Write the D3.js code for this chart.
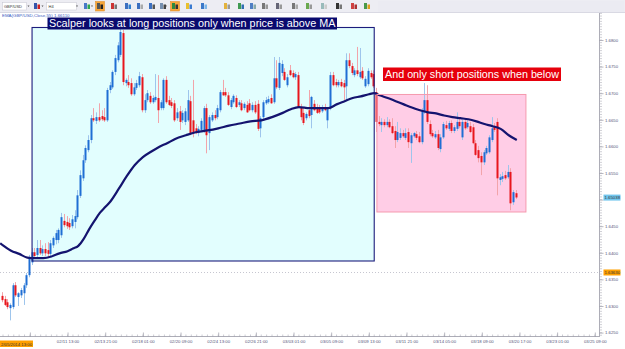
<!DOCTYPE html>
<html><head><meta charset="utf-8">
<script src="https://cdn.jsdelivr.net/npm/d3@7"></script>
<style>html,body{margin:0;padding:0;background:#fff;overflow:hidden}svg{display:block}</style>
</head><body><svg id="c" width="625" height="349"></svg>
<script>
// ---------- DATA ----------
// H4 GBP/USD candles [open, high, low, close], bar 0 = 02/05/2014 13:00
const candles = [
[1.6319,1.6326,1.6307,1.6311],[1.6313,1.6319,1.6300,1.6302],[1.6307,1.6313,1.6294,1.6298],[1.6296,1.6305,1.6273,1.6302],
[1.6298,1.6343,1.6294,1.6339],[1.6339,1.6345,1.6317,1.6320],[1.6317,1.6326,1.6300,1.6324],[1.6320,1.6334,1.6315,1.6330],
[1.6324,1.6343,1.6302,1.6339],[1.6339,1.6362,1.6334,1.6358],[1.6358,1.6396,1.6354,1.6390],[1.6382,1.6409,1.6377,1.6401],
[1.6401,1.6409,1.6390,1.6394],[1.6396,1.6424,1.6390,1.6409],[1.6409,1.6424,1.6396,1.6399],[1.6399,1.6414,1.6394,1.6407],
[1.6407,1.6418,1.6394,1.6399],[1.6405,1.6420,1.6390,1.6398],[1.6398,1.6424,1.6394,1.6418],[1.6414,1.6431,1.6409,1.6428],
[1.6424,1.6443,1.6416,1.6437],[1.6424,1.6446,1.6418,1.6443],[1.6433,1.6475,1.6428,1.6467],[1.6460,1.6473,1.6448,1.6452],
[1.6458,1.6469,1.6445,1.6450],[1.6456,1.6465,1.6443,1.6448],[1.6450,1.6471,1.6446,1.6463],[1.6458,1.6480,1.6446,1.6469],
[1.6467,1.6518,1.6463,1.6508],[1.6507,1.6555,1.6503,1.6546],[1.6540,1.6584,1.6535,1.6574],[1.6574,1.6602,1.6569,1.6597],
[1.6593,1.6621,1.6589,1.6612],[1.6612,1.6659,1.6606,1.6653],[1.6653,1.6672,1.6646,1.6649],[1.6648,1.6664,1.6642,1.6655],
[1.6655,1.6681,1.6646,1.6649],[1.6657,1.6668,1.6648,1.6651],[1.6655,1.6672,1.6646,1.6649],[1.6649,1.6710,1.6646,1.6706],
[1.6706,1.6721,1.6700,1.6715],[1.6711,1.6743,1.6708,1.6740],[1.6740,1.6772,1.6734,1.6766],[1.6762,1.6796,1.6758,1.6790],
[1.6772,1.6822,1.6768,1.6815],[1.6813,1.6819,1.6715,1.6721],[1.6719,1.6728,1.6713,1.6725],[1.6721,1.6734,1.6710,1.6715],
[1.6719,1.6728,1.6695,1.6698],[1.6698,1.6719,1.6695,1.6711],[1.6710,1.6725,1.6706,1.6719],[1.6715,1.6740,1.6711,1.6732],
[1.6730,1.6736,1.6664,1.6668],[1.6668,1.6698,1.6663,1.6687],[1.6687,1.6706,1.6683,1.6700],[1.6695,1.6702,1.6680,1.6683],
[1.6683,1.6696,1.6680,1.6691],[1.6687,1.6736,1.6683,1.6693],[1.6691,1.6734,1.6644,1.6668],[1.6672,1.6687,1.6668,1.6683],
[1.6672,1.6728,1.6668,1.6725],[1.6725,1.6732,1.6680,1.6683],[1.6687,1.6695,1.6676,1.6678],[1.6683,1.6691,1.6672,1.6676],
[1.6681,1.6687,1.6646,1.6649],[1.6653,1.6672,1.6648,1.6664],[1.6666,1.6676,1.6631,1.6646],[1.6649,1.6668,1.6644,1.6663],
[1.6646,1.6672,1.6640,1.6666],[1.6649,1.6706,1.6646,1.6687],[1.6685,1.6695,1.6621,1.6625],[1.6649,1.6725,1.6617,1.6627],
[1.6634,1.6642,1.6623,1.6625],[1.6625,1.6638,1.6619,1.6633],[1.6631,1.6653,1.6627,1.6648],[1.6631,1.6676,1.6625,1.6672],
[1.6672,1.6680,1.6587,1.6621],[1.6625,1.6659,1.6593,1.6655],[1.6649,1.6664,1.6646,1.6659],[1.6659,1.6668,1.6649,1.6653],
[1.6655,1.6678,1.6651,1.6672],[1.6668,1.6706,1.6664,1.6702],[1.6702,1.6725,1.6695,1.6696],[1.6702,1.6710,1.6693,1.6696],
[1.6696,1.6702,1.6676,1.6678],[1.6674,1.6691,1.6670,1.6687],[1.6683,1.6698,1.6680,1.6695],[1.6691,1.6696,1.6672,1.6674],
[1.6678,1.6687,1.6674,1.6683],[1.6681,1.6687,1.6666,1.6668],[1.6672,1.6683,1.6668,1.6680],[1.6678,1.6685,1.6663,1.6664],
[1.6681,1.6689,1.6666,1.6668],[1.6668,1.6683,1.6664,1.6678],[1.6678,1.6685,1.6661,1.6664],[1.6680,1.6687,1.6629,1.6633],
[1.6634,1.6657,1.6617,1.6653],[1.6655,1.6687,1.6651,1.6683],[1.6681,1.6693,1.6678,1.6687],[1.6683,1.6695,1.6680,1.6689],
[1.6691,1.6698,1.6680,1.6681],[1.6683,1.6768,1.6680,1.6728],[1.6728,1.6762,1.6708,1.6711],[1.6710,1.6768,1.6706,1.6757],
[1.6738,1.6762,1.6732,1.6755],[1.6740,1.6747,1.6723,1.6725],[1.6715,1.6736,1.6711,1.6730],[1.6743,1.6753,1.6732,1.6734],
[1.6738,1.6743,1.6728,1.6730],[1.6730,1.6740,1.6725,1.6736],[1.6734,1.6740,1.6672,1.6674],[1.6674,1.6680,1.6649,1.6655],
[1.6663,1.6672,1.6640,1.6644],[1.6653,1.6664,1.6649,1.6661],[1.6668,1.6706,1.6653,1.6657],[1.6659,1.6695,1.6634,1.6693],
[1.6680,1.6687,1.6666,1.6668],[1.6674,1.6680,1.6661,1.6663],[1.6672,1.6678,1.6661,1.6664],[1.6666,1.6678,1.6663,1.6674],
[1.6674,1.6680,1.6666,1.6668],[1.6649,1.6674,1.6634,1.6670],[1.6672,1.6740,1.6668,1.6734],[1.6734,1.6740,1.6713,1.6715],
[1.6721,1.6727,1.6711,1.6715],[1.6715,1.6725,1.6711,1.6721],[1.6721,1.6727,1.6711,1.6713],[1.6719,1.6725,1.6687,1.6711],
[1.6713,1.6775,1.6687,1.6762],[1.6762,1.6775,1.6747,1.6751],[1.6751,1.6757,1.6734,1.6738],[1.6734,1.6747,1.6730,1.6743],
[1.6743,1.6787,1.6732,1.6736],[1.6730,1.6785,1.6727,1.6740],[1.6742,1.6749,1.6725,1.6728],[1.6713,1.6732,1.6710,1.6727],
[1.6717,1.6747,1.6713,1.6742],[1.6738,1.6743,1.6727,1.6730],[1.6736,1.6743,1.6710,1.6713],[1.6702,1.6710,1.6627,1.6646],
[1.6646,1.6657,1.6638,1.6642],[1.6640,1.6653,1.6627,1.6646],[1.6646,1.6651,1.6636,1.6640],[1.6640,1.6655,1.6636,1.6646],
[1.6646,1.6651,1.6634,1.6636],[1.6638,1.6653,1.6623,1.6625],[1.6629,1.6638,1.6597,1.6612],[1.6612,1.6646,1.6608,1.6627],
[1.6616,1.6634,1.6612,1.6625],[1.6625,1.6631,1.6616,1.6619],[1.6616,1.6634,1.6612,1.6625],[1.6627,1.6634,1.6597,1.6608],
[1.6606,1.6625,1.6569,1.6621],[1.6619,1.6627,1.6616,1.6625],[1.6623,1.6629,1.6612,1.6616],[1.6619,1.6627,1.6606,1.6608],
[1.6608,1.6672,1.6604,1.6668],[1.6664,1.6719,1.6661,1.6687],[1.6687,1.6715,1.6642,1.6646],[1.6642,1.6649,1.6619,1.6623],
[1.6625,1.6631,1.6616,1.6619],[1.6617,1.6629,1.6614,1.6623],[1.6623,1.6631,1.6593,1.6597],[1.6595,1.6623,1.6589,1.6617],
[1.6617,1.6646,1.6614,1.6642],[1.6640,1.6648,1.6631,1.6634],[1.6633,1.6648,1.6629,1.6644],[1.6644,1.6649,1.6625,1.6629],
[1.6629,1.6640,1.6625,1.6636],[1.6633,1.6664,1.6629,1.6646],[1.6646,1.6653,1.6634,1.6638],[1.6617,1.6651,1.6612,1.6646],
[1.6646,1.6651,1.6631,1.6634],[1.6636,1.6649,1.6633,1.6644],[1.6638,1.6646,1.6625,1.6627],[1.6636,1.6642,1.6604,1.6606],
[1.6606,1.6612,1.6582,1.6584],[1.6593,1.6601,1.6570,1.6578],[1.6582,1.6589,1.6546,1.6570],[1.6570,1.6593,1.6565,1.6589],
[1.6587,1.6601,1.6584,1.6597],[1.6589,1.6621,1.6586,1.6617],[1.6612,1.6655,1.6608,1.6634],[1.6638,1.6644,1.6627,1.6631],
[1.6646,1.6653,1.6508,1.6540],[1.6537,1.6548,1.6527,1.6542],[1.6539,1.6552,1.6533,1.6544],[1.6546,1.6554,1.6537,1.6540],
[1.6542,1.6565,1.6539,1.6552],[1.6552,1.6559,1.6480,1.6493],[1.6495,1.6518,1.6490,1.6514],[1.6512,1.6518,1.6501,1.6504]
];
// EMA(55) readings at bar indices
const emaIdx  = [-1,0,3,6,9,12,15,18,21,24,26,28,30,32,34,36,38,40,43,46,49,52,55,58,61,64,68,72,76,80,84,88,92,96,100,104,107,110,114,118,121,124,127,130,133,136,138,140,143,146,149,152,155,158,161,164,167,170,173,176,179,182,185,188,191];
const emaVals = [1.6418,1.6414,1.6404,1.6398,1.6391,1.6390,1.6390,1.6393,1.6399,1.6403,1.6408,1.6413,1.6426,1.6444,1.6460,1.6475,1.6486,1.6497,1.6520,1.6544,1.6565,1.6580,1.6590,1.6599,1.6606,1.6614,1.6621,1.6627,1.6630,1.6634,1.6639,1.6643,1.6647,1.6649,1.6655,1.6663,1.6670,1.6674,1.6672,1.6672,1.6672,1.6679,1.6685,1.6691,1.6694,1.6698,1.6700,1.6696,1.6691,1.6685,1.6679,1.6673,1.6668,1.6664,1.6662,1.6658,1.6655,1.6653,1.6651,1.6647,1.6642,1.6638,1.6633,1.6621,1.6612];
const priceTicks = [1.625,1.630,1.635,1.640,1.645,1.650,1.655,1.660,1.665,1.670,1.675,1.680];
const timeTickIdx = [10,24,38,52,66,80,94,108,122,136,150,164,178,192,206,220];
const timeTickLabels = ["","02/11 13:00","02/13 21:00","02/18 01:00","02/20 09:00","02/24 13:00","02/26 21:00","03/03 01:00","03/05 09:00","03/09 13:00","03/11 21:00","03/14 05:00","03/18 09:00","03/20 17:00","03/23 01:00","03/25 09:00"];
const startLabel = "2/05/2014 13:00";
const lastPrice = 1.65038;
const levelPrice = 1.63630;
const emaHeader = "EMA(GBP/USD,Close,55) 1.66110";
const longText = "Scalper looks at long positions only when price is above MA";
const shortText = "And only short positions when below";
// annotation zones in data units [fromBar, toBar, lowPrice, highPrice]
const longZone = [10.8, 138, 1.63846, 1.68235];
const shortZone = [139.0, 194.4, 1.64767, 1.66976];

// ---------- SCALES ----------
const svg = d3.select('#c');
const W = 625, H = 349, plotR = 600, plotT = 13, plotB = 336;
const xs = d3.scaleLinear().domain([0, 220]).range([3, 594.8]);
const ys = d3.scaleLinear().domain([1.625, 1.68]).range([332.6, 40]);
const FONT = "'Liberation Sans', Arial, sans-serif";

svg.append('rect').attr('width', W).attr('height', H).attr('fill', '#ffffff');

// ---------- TOOLBAR ----------
svg.append('rect').attr('x', 0).attr('y', 0).attr('width', W).attr('height', 12.5).attr('fill', '#ededf3');
svg.append('line').attr('x1', 0).attr('x2', W).attr('y1', 12.5).attr('y2', 12.5).attr('stroke', '#d9d9e3');
svg.append('rect').attr('x', 2.5).attr('y', 2.5).attr('width', 24).attr('height', 7.5).attr('fill', '#fff').attr('stroke', '#c4c4d0').attr('stroke-width', 0.5);
svg.append('text').attr('x', 4).attr('y', 7.8).attr('font-size', 4).attr('font-family', FONT).attr('fill', '#333').text('GBP/USD');
svg.append('rect').attr('x', 46.5).attr('y', 2.5).attr('width', 30).attr('height', 7.5).attr('fill', '#fff').attr('stroke', '#c4c4d0').attr('stroke-width', 0.5);
svg.append('text').attr('x', 48.5).attr('y', 7.8).attr('font-size', 4).attr('font-family', FONT).attr('fill', '#333').text('H4');
[[27.5],[41.5],[76],[91],[165]].forEach(a => {
  svg.append('path').attr('d', `M${a[0]},5.5 l2,0 l-1,1.5z`).attr('fill', '#555');
});
const icons = [[34,'#3355aa',0,'#cc2222'],[84,'#4a78c8',0,'#2fa84f'],[97,'#555',1,'#222'],[111,'#cc3333',0,'#777'],
  [125,'#3c6fc0',0,'#2f7fd0'],[137,'#3c6fc0',0,'#aaa'],[149,'#3c6fc0',0,'#555'],[160,'#7790b0',0,'#444'],
  [172,'#2b8a3e',1,'#333'],[186,'#e8c030',0,'#3a7ad0'],[201,'#3b79c9',0,'#7fb7e8'],[224,'#e3b23c',0,'#999'],
  [238,'#3f9a52',0,'#2f6fb0'],[250,'#4f7fc4',0,'#8aa'],[262,'#777',0,'#999'],[276,'#667',0,'#999'],
  [292,'#777',0,'#aaa'],[306,'#6aa84f',0,'#999'],[321,'#9bb',0,'#ccc'],[336,'#333',0,'#777'],
  [351,'#d04040',0,'#a33'],[364,'#4a9a4a',0,'#e0a020']];
icons.forEach(c => {
  if (c[2]) svg.append('rect').attr('x', c[0]-1.5).attr('y', 1.5).attr('width', 9).attr('height', 9.5).attr('fill', '#f6a53a').attr('stroke', '#e08a20').attr('stroke-width', 0.5);
  svg.append('rect').attr('x', c[0]).attr('y', 3).attr('width', 3).attr('height', 6).attr('fill', c[1]);
  svg.append('rect').attr('x', c[0]+3.5).attr('y', 4.5).attr('width', 2.5).attr('height', 4.5).attr('fill', c[3]);
});
svg.append('rect').attr('x', 378).attr('y', 1).attr('width', 246).attr('height', 11).attr('fill', '#ebebf2');

// ---------- HEADER ----------
svg.append('text').attr('x', 2).attr('y', 17.2).attr('font-size', 4.4).attr('font-family', FONT)
  .attr('fill', '#3a5bbf').text(emaHeader);

// ---------- CLIP ----------
svg.append('clipPath').attr('id', 'plot').append('rect').attr('x', 0).attr('y', plotT).attr('width', plotR).attr('height', plotB - plotT);
const g = svg.append('g').attr('clip-path', 'url(#plot)');

// zone fills
const zoneRect = (z) => ({x: xs(z[0]), y: ys(z[3]), w: xs(z[1]) - xs(z[0]), h: ys(z[2]) - ys(z[3])});
const lz = zoneRect(longZone), sz = zoneRect(shortZone);
g.append('rect').attr('x', lz.x).attr('y', lz.y).attr('width', lz.w).attr('height', lz.h).attr('fill', '#e2fefe');
g.append('rect').attr('x', sz.x).attr('y', sz.y).attr('width', sz.w).attr('height', sz.h).attr('fill', '#ffcde6');

// dotted level line
g.append('line').attr('x1', 0).attr('x2', plotR).attr('y1', Math.round(ys(levelPrice)) + 0.5).attr('y2', Math.round(ys(levelPrice)) + 0.5)
  .attr('stroke', '#b8b8c4').attr('stroke-width', 0.8).attr('stroke-dasharray', '1,2');

// candles
const cg = g.append('g');
candles.forEach((d, i) => {
  const [o, h, l, c] = d;
  const up = c >= o;
  const X = Math.round(xs(i));
  cg.append('line').attr('x1', X - 0.5).attr('x2', X - 0.5).attr('y1', ys(h)).attr('y2', ys(l))
    .attr('stroke', up ? '#9ec5ec' : '#f2a4aa').attr('stroke-width', 1);
  const top = ys(Math.max(o, c)), bot = ys(Math.min(o, c));
  cg.append('rect').attr('x', X - 1.5).attr('y', top).attr('width', 2).attr('height', Math.max(1, bot - top))
    .attr('fill', up ? '#1f6ed4' : '#e8161d');
});

// EMA
const emaPts = emaIdx.map((k, j) => [k, emaVals[j]]);
g.append('path').datum(emaPts)
  .attr('d', d3.line().x(d => xs(d[0])).y(d => ys(d[1])).curve(d3.curveMonotoneX))
  .attr('fill', 'none').attr('stroke', '#14146f').attr('stroke-width', 2.2).attr('stroke-linejoin', 'round');

// zone borders
g.append('rect').attr('x', lz.x).attr('y', lz.y).attr('width', lz.w).attr('height', lz.h)
  .attr('fill', 'none').attr('stroke', '#1c1c7c').attr('stroke-width', 1.1);
g.append('rect').attr('x', sz.x).attr('y', sz.y).attr('width', sz.w).attr('height', sz.h)
  .attr('fill', 'none').attr('stroke', '#f59aae').attr('stroke-width', 1);

// annotation labels
svg.append('rect').attr('x', 47.5).attr('y', 17.5).attr('width', 289.5).attr('height', 12).attr('fill', '#0a0a6e');
svg.append('text').attr('x', 49).attr('y', 27.3).attr('font-size', 10.6).attr('font-family', FONT).attr('fill', '#fff')
  .attr('textLength', 286.5).attr('lengthAdjust', 'spacingAndGlyphs').text(longText);
svg.append('rect').attr('x', 383).attr('y', 67.5).attr('width', 178).attr('height', 13.5).attr('fill', '#e6000c');
svg.append('text').attr('x', 385).attr('y', 78.2).attr('font-size', 10.6).attr('font-family', FONT).attr('fill', '#fff')
  .attr('textLength', 174).attr('lengthAdjust', 'spacingAndGlyphs').text(shortText);

// ---------- RIGHT AXIS ----------
const flagPrices = [lastPrice, levelPrice];
const hidden = p => flagPrices.some(f => Math.abs(ys(f) - ys(p)) < 5);
const yAxis = d3.axisRight(ys).tickValues(priceTicks)
  .tickFormat(d => hidden(d) ? '' : d3.format('.4f')(d)).tickSize(4).tickPadding(1.5);
const ya = svg.append('g').attr('transform', `translate(${plotR - 0.5},0)`).call(yAxis);
ya.select('.domain').remove();
ya.selectAll('line').attr('stroke', '#8a8a98').attr('stroke-width', 0.6);
ya.selectAll('text').attr('font-size', 4.3).attr('font-family', FONT).attr('fill', '#55557a');
svg.append('line').attr('x1', plotR - 0.5).attr('x2', plotR - 0.5).attr('y1', plotT).attr('y2', plotB).attr('stroke', '#8a8a98').attr('stroke-width', 0.7);
const minorP = d3.range(1.6245, 1.6855, 0.0005);
svg.append('g').selectAll('line').data(minorP).join('line')
  .attr('x1', plotR).attr('x2', plotR + 2).attr('y1', d => ys(d)).attr('y2', d => ys(d))
  .attr('stroke', '#a0a0ac').attr('stroke-width', 0.5);

// price flags
const flag = (p, fill) => {
  const y = ys(p);
  svg.append('rect').attr('x', 603.5).attr('y', y - 3).attr('width', 17).attr('height', 6).attr('fill', fill);
  svg.append('text').attr('x', 604.5).attr('y', y + 1.5).attr('font-size', 4.3).attr('font-family', FONT).attr('fill', '#333').text(p.toFixed(5));
};
flag(lastPrice, '#72c6ee');
flag(levelPrice, '#ffa000');

// ---------- BOTTOM AXIS ----------
svg.append('line').attr('x1', 0).attr('x2', plotR).attr('y1', plotB + 0.5).attr('y2', plotB + 0.5).attr('stroke', '#8a8a98').attr('stroke-width', 0.7);
const minorT = d3.range(0, 222, 2);
svg.append('g').selectAll('line').data(minorT).join('line')
  .attr('x1', d => xs(d)).attr('x2', d => xs(d)).attr('y1', plotB - 1.5).attr('y2', plotB + 0.5)
  .attr('stroke', '#9a9aa8').attr('stroke-width', 0.5);
const xAxis = d3.axisBottom(xs).tickValues(timeTickIdx).tickFormat((d, i) => timeTickLabels[i]).tickSize(4).tickPadding(3);
const xa = svg.append('g').attr('transform', `translate(0,${plotB - 3.5})`).call(xAxis);
xa.select('.domain').remove();
xa.selectAll('line').attr('stroke', '#8a8a98').attr('stroke-width', 0.6);
xa.selectAll('text').attr('font-size', 4.3).attr('font-family', FONT).attr('fill', '#55557a');

svg.append('rect').attr('x', 0).attr('y', 340.5).attr('width', 33).attr('height', 6.5).attr('fill', '#ffa000');
svg.append('text').attr('x', 1).attr('y', 345.5).attr('font-size', 4.3).attr('font-family', FONT).attr('fill', '#333').text(startLabel);
</script></body></html>
